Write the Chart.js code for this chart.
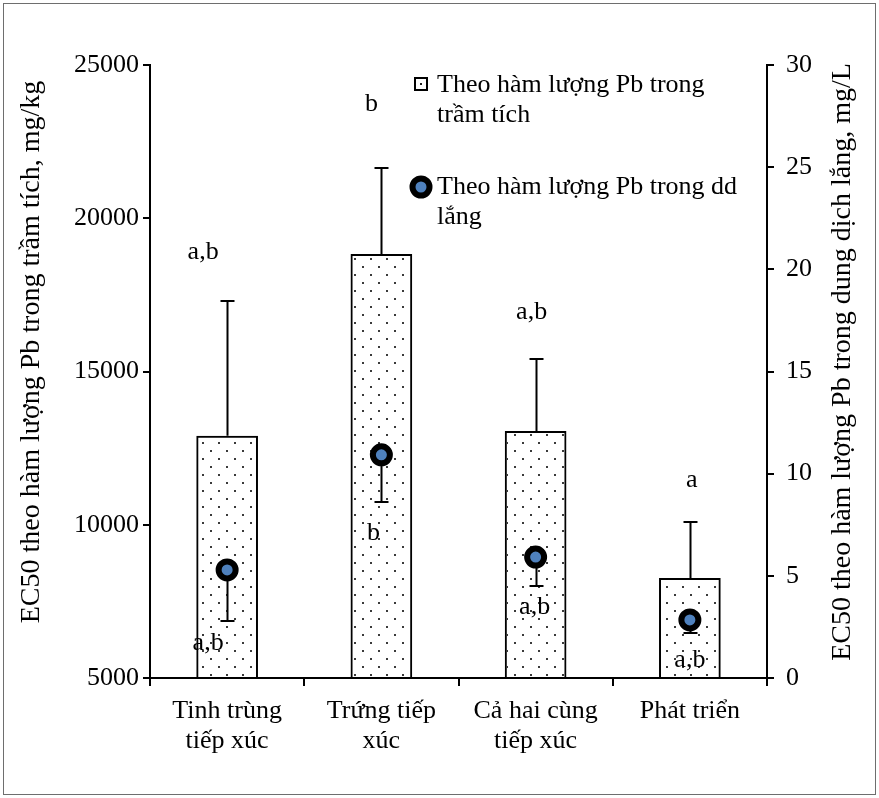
<!DOCTYPE html>
<html>
<head>
<meta charset="utf-8">
<script src="https://cdn.jsdelivr.net/npm/chart.js@4"></script>
<style>
  html, body { margin: 0; padding: 0; background: #fff; }
  #wrap { width: 879px; height: 798px; position: relative; }
</style>
</head>
<body>
<div id="wrap"><canvas id="c" width="879" height="798"></canvas></div>
<script>
// Exposure scenarios (x categories)
const categories = [
  ['Tinh trùng', 'tiếp xúc'],
  ['Trứng tiếp', 'xúc'],
  ['Cả hai cùng', 'tiếp xúc'],
  ['Phát triển']
];

// EC50 by Pb content in sediment, mg/kg (left axis) and its upper error
const sedimentEC50 = [12900, 18830, 13060, 8260];
const sedimentErr = [4400, 2810, 2350, 1830];

// EC50 by Pb content in the settled solution, mg/L (right axis) and its lower error
const solutionEC50 = [5.29, 10.92, 5.92, 2.84];
const solutionErr = [2.5, 2.31, 1.42, 0.64];

// Significance groups
const sedimentLetters = ['a,b', 'b', 'a,b', 'a'];
const solutionLetters = ['a,b', 'b', 'a,b', 'a,b'];

// Axis ranges and tick steps
const leftRange = [5000, 25000];
const leftStep = 5000;
const rightRange = [0, 30];
const rightStep = 5;

// Legend entries
const legendSediment = ['Theo hàm lượng Pb trong', 'trầm tích'];
const legendSolution = ['Theo hàm lượng Pb trong dd', 'lắng'];

// Axis titles
const leftTitle = 'EC50 theo hàm lượng Pb trong trầm tích, mg/kg';
const rightTitle = 'EC50 theo hàm lượng Pb trong dung dịch lắng, mg/L';

const FONT = "'Liberation Serif', 'Times New Roman', serif";
const DOT_BLUE = '#4f81bd';

// Stippled fill used for the bars
function makeDots() {
  const t = document.createElement('canvas');
  t.width = 16; t.height = 16;
  const g = t.getContext('2d');
  g.fillStyle = '#3a3a3a';
  g.fillRect(2, 2, 2, 2);
  g.fillRect(10, 10, 2, 2);
  return g.createPattern(t, 'repeat');
}

function drawDotMarker(ctx, x, y) {
  ctx.beginPath();
  ctx.arc(x, y, 8.5, 0, Math.PI * 2);
  ctx.fillStyle = DOT_BLUE;
  ctx.fill();
  ctx.lineWidth = 6;
  ctx.strokeStyle = '#000';
  ctx.stroke();
}

const extras = {
  id: 'extras',
  afterDatasetDraw(chart, args, opts) {
    if (args.index !== 0) return;
    const { ctx, scales: { x, y } } = chart;
    ctx.save();
    ctx.strokeStyle = '#000';
    ctx.lineWidth = 2;
    sedimentEC50.forEach((v, i) => {
      const px = Math.round(x.getPixelForValue(i)) + 0.5;
      const y0 = y.getPixelForValue(v);
      const y1 = Math.round(y.getPixelForValue(v + sedimentErr[i]));
      ctx.beginPath();
      ctx.moveTo(px, y0); ctx.lineTo(px, y1);
      ctx.moveTo(px - 7, y1); ctx.lineTo(px + 7, y1);
      ctx.stroke();
    });
    ctx.restore();
  },
  beforeDatasetDraw(chart, args, opts) {
    if (args.index !== 1) return;
    const { ctx, scales: { x, y2 } } = chart;
    ctx.save();
    ctx.strokeStyle = '#000';
    ctx.lineWidth = 2;
    solutionEC50.forEach((v, i) => {
      const px = Math.round(x.getPixelForValue(i)) + 0.5;
      const y0 = y2.getPixelForValue(v);
      const y1 = Math.round(y2.getPixelForValue(v - solutionErr[i]));
      ctx.beginPath();
      ctx.moveTo(px, y0); ctx.lineTo(px, y1);
      ctx.moveTo(px - 7, y1); ctx.lineTo(px + 7, y1);
      ctx.stroke();
    });
    ctx.restore();
  },
  afterDraw(chart, args, opts) {
    const { ctx, scales: { x, y, y2 } } = chart;
    ctx.save();
    ctx.fillStyle = '#000';
    ctx.font = '26px ' + FONT;
    ctx.textAlign = 'center';
    ctx.textBaseline = 'middle';

    // group letters above the upper error caps
    sedimentLetters.forEach((t, i) => {
      const px = x.getPixelForValue(i) + opts.topDx[i];
      const py = y.getPixelForValue(sedimentEC50[i] + sedimentErr[i]) - opts.topDy[i];
      ctx.fillText(t, px, py);
    });
    // group letters below the lower error caps of the dots
    solutionLetters.forEach((t, i) => {
      const px = x.getPixelForValue(i) + opts.lowDx[i];
      const py = y2.getPixelForValue(solutionEC50[i] - solutionErr[i]) + opts.lowDy[i];
      ctx.fillText(t, px, py);
    });

    // axis titles, both reading bottom to top
    ctx.font = '28px ' + FONT;
    ctx.save();
    ctx.translate(32, 352);
    ctx.rotate(-Math.PI / 2);
    ctx.fillText(leftTitle, 0, 0);
    ctx.restore();
    ctx.save();
    ctx.translate(843, 362);
    ctx.rotate(-Math.PI / 2);
    ctx.fillText(rightTitle, 0, 0);
    ctx.restore();

    // legend
    ctx.font = '26px ' + FONT;
    ctx.textAlign = 'left';
    ctx.fillStyle = '#fff';
    ctx.fillRect(415, 78, 12, 12);
    ctx.lineWidth = 2;
    ctx.strokeStyle = '#000';
    ctx.strokeRect(415, 78, 12, 12);
    ctx.fillStyle = '#222';
    ctx.fillRect(420, 83, 2, 2);
    ctx.fillStyle = '#000';
    ctx.fillText(legendSediment[0], 437, 85);
    ctx.fillText(legendSediment[1], 437, 115);
    drawDotMarker(ctx, 421, 187);
    ctx.fillStyle = '#000';
    ctx.fillText(legendSolution[0], 437, 187);
    ctx.fillText(legendSolution[1], 437, 217);

    // outer frame
    ctx.lineWidth = 1;
    ctx.strokeStyle = '#6e6e6e';
    ctx.strokeRect(3.5, 3.5, 872, 791);
    ctx.restore();
  }
};

const tickFont = { family: FONT, size: 26 };

new Chart(document.getElementById('c'), {
  type: 'bar',
  data: {
    labels: categories,
    datasets: [
      {
        type: 'bar',
        label: legendSediment.join(' '),
        data: sedimentEC50,
        yAxisID: 'y',
        backgroundColor: makeDots(),
        borderColor: '#000',
        borderWidth: 2,
        barPercentage: 0.8,
        categoryPercentage: 0.5,
        order: 1
      },
      {
        type: 'line',
        label: legendSolution.join(' '),
        data: solutionEC50,
        yAxisID: 'y2',
        showLine: false,
        pointRadius: 8.5,
        pointHoverRadius: 8.5,
        pointBorderWidth: 6,
        pointBackgroundColor: DOT_BLUE,
        pointBorderColor: '#000',
        order: 0
      }
    ]
  },
  options: {
    responsive: false,
    animation: false,
    devicePixelRatio: 1,
    layout: { padding: { top: 65, left: 0, right: 0, bottom: 0 } },
    plugins: {
      legend: { display: false },
      tooltip: { enabled: false },
      extras: {
        topDx: [-24, -10, -4, 2],
        topDy: [49, 64, 47, 42],
        lowDx: [-19, -8, -1, 0],
        lowDy: [22, 31, 21, 27]
      }
    },
    scales: {
      x: {
        offset: true,
        grid: { offset: true, drawOnChartArea: false, drawTicks: true, tickLength: 8, color: '#000', lineWidth: 2 },
        border: { display: true, color: '#000', width: 2 },
        ticks: { color: '#000', font: { ...tickFont, lineHeight: '30px' }, padding: 10, maxRotation: 0, autoSkip: false },
        afterFit(s) { s.height = 120; }
      },
      y: {
        position: 'left',
        min: leftRange[0],
        max: leftRange[1],
        grid: { drawOnChartArea: false, drawTicks: true, tickLength: 7, color: '#000', lineWidth: 2 },
        border: { display: true, color: '#000', width: 2 },
        ticks: { stepSize: leftStep, color: '#000', font: tickFont, padding: 4, callback: v => String(v) },
        afterFit(s) { s.width = 150; }
      },
      y2: {
        position: 'right',
        min: rightRange[0],
        max: rightRange[1],
        grid: { drawOnChartArea: false, drawTicks: true, tickLength: 7, color: '#000', lineWidth: 2 },
        border: { display: true, color: '#000', width: 2 },
        ticks: { stepSize: rightStep, color: '#000', font: tickFont, padding: 12, callback: v => String(v) },
        afterFit(s) { s.width = 112; }
      }
    }
  },
  plugins: [extras]
});
</script>
</body>
</html>
